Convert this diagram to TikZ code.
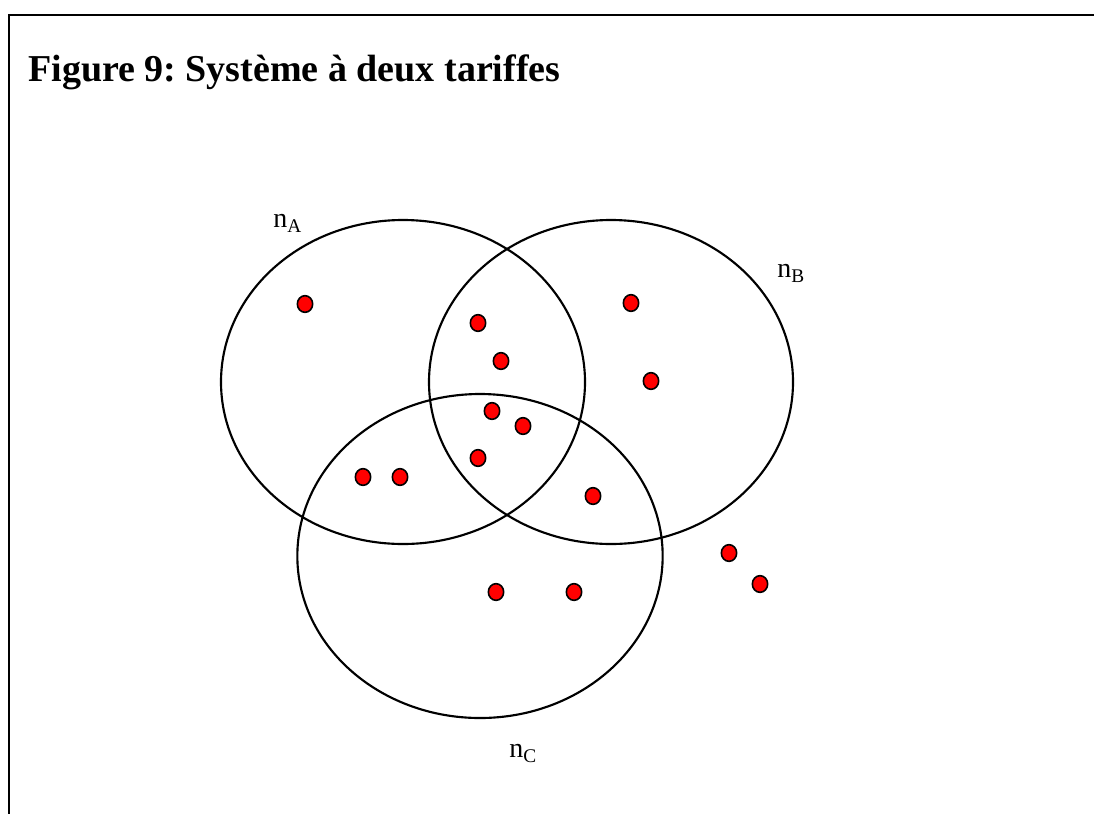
\documentclass[tikz,border=0pt]{standalone}
\usepackage{fontspec}
\setmainfont{Liberation Serif}
\usetikzlibrary{shapes.geometric}
\frenchspacing
\tikzset{
  venn/.style={draw=black, line width=1.6pt, ellipse, inner sep=0pt, outer sep=0pt},
  dot/.style={draw=black, fill=red, line width=1.2pt, ellipse, inner sep=0pt, minimum width=11.5pt, minimum height=12.5pt},
  lbl/.style={inner sep=0pt, anchor=base west, font=\fontsize{21}{25}\selectfont},
  frame/.style={line width=1.6pt, black}
}
\newcommand{\sublbl}[1]{n\raisebox{-4pt}{\fontsize{14.5}{16}\selectfont #1}}
\begin{document}
\begin{tikzpicture}[x=0.75pt, y=-0.75pt]
\useasboundingbox (0,0) rectangle (1094,814);
% frame (top and left edges visible)
\coordinate (fTR) at (1094,15);
\coordinate (fTL) at (9,15);
\coordinate (fBL) at (9,814);
\draw[frame] (fTR) -- (fTL) -- (fBL);
% title
\node[inner sep=0pt, anchor=base west, font=\bfseries\fontsize{28.5}{34}\selectfont] (title) at (28,81) {Figure 9: Système à deux tariffes};
% sets
\node[venn, minimum width=273pt, minimum height=243pt] (A) at (403,382) {};
\node[venn, minimum width=273pt, minimum height=243pt] (B) at (611,382) {};
\node[venn, minimum width=274pt, minimum height=243pt] (C) at (480,556) {};
% labels
\node[lbl] (lA) at (273,227) {\sublbl{A}};
\node[lbl] (lB) at (777,277) {\sublbl{B}};
\node[lbl] (lC) at (509,757) {\sublbl{C}};
% dots
\node[dot] (d1) at (305,304) {};
\node[dot] (d2) at (478,323) {};
\node[dot] (d3) at (501,361) {};
\node[dot] (d4) at (631,303) {};
\node[dot] (d5) at (651,381) {};
\node[dot] (d6) at (492,411) {};
\node[dot] (d7) at (523,426) {};
\node[dot] (d8) at (478,458) {};
\node[dot] (d9) at (363,477) {};
\node[dot] (d10) at (400,477) {};
\node[dot] (d11) at (593,496) {};
\node[dot] (d12) at (729,553) {};
\node[dot] (d13) at (760,584) {};
\node[dot] (d14) at (496,592) {};
\node[dot] (d15) at (574,592) {};
\end{tikzpicture}
\end{document}
